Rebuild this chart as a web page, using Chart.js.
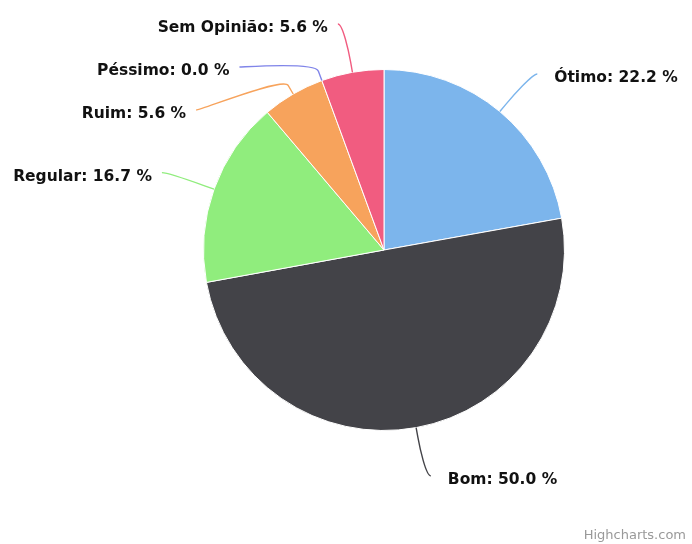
<!DOCTYPE html>
<html>
<head>
<meta charset="utf-8">
<script src="https://cdn.jsdelivr.net/npm/chart.js@4"></script>
<style>
  html, body { margin: 0; padding: 0; background: #fff; }
  #wrap { width: 692px; height: 544px; }
</style>
</head>
<body>
<div id="wrap"><canvas id="pieChart" width="692" height="544"></canvas></div>
<script>
const categories = ['Ótimo', 'Bom', 'Regular', 'Ruim', 'Péssimo', 'Sem Opinião'];
const percentages = [22.2, 50.0, 16.7, 5.6, 0.0, 5.6];
const sliceColors = ['#7cb5ec', '#434348', '#90ed7d', '#f7a35c', '#8085e9', '#f15c80'];
const creditText = 'Highcharts.com';

const labelDistance = 49;
const labelGap = 43;

// outside labels with soft connectors, like the highcharts pie
const pieLabels = {
  id: 'pieLabels',
  afterDatasetsDraw(chart) {
    const ctx = chart.ctx;
    const arcs = chart.getDatasetMeta(0).data;
    const items = arcs.map((arc, i) => {
      const p = arc.getProps(['x', 'y', 'startAngle', 'endAngle', 'outerRadius']);
      const mid = (p.startAngle + p.endAngle) / 2;
      const R = p.outerRadius + labelDistance;
      return { i, p, mid, R, left: Math.cos(mid) < 0, y: p.y + R * Math.sin(mid) };
    });
    [true, false].forEach(side => {
      const group = items.filter(it => it.left === side).sort((a, b) => a.y - b.y);
      for (let k = 1; k < group.length; k++) {
        group[k].y = Math.max(group[k].y, group[k - 1].y + labelGap);
      }
    });
    ctx.save();
    ctx.font = 'bold 15.5px "DejaVu Sans"';
    ctx.textBaseline = 'middle';
    items.forEach(it => {
      const { p, mid, R } = it;
      const dir = it.left ? -1 : 1;
      const dy = it.y - p.y;
      const ax = p.x + dir * Math.sqrt(Math.max(R * R - dy * dy, 0)) + dir * 6;
      const tx = p.x + Math.cos(mid) * p.outerRadius;
      const ty = p.y + Math.sin(mid) * p.outerRadius;
      const bx = p.x + Math.cos(mid) * (p.outerRadius + 10);
      const by = p.y + Math.sin(mid) * (p.outerRadius + 10);
      ctx.strokeStyle = sliceColors[it.i];
      ctx.lineWidth = 1.4;
      ctx.beginPath();
      ctx.moveTo(ax, it.y);
      ctx.bezierCurveTo(ax - dir * 5, it.y, 2 * bx - tx, 2 * by - ty, bx, by);
      ctx.lineTo(tx, ty);
      ctx.stroke();
      ctx.fillStyle = '#111';
      ctx.textAlign = it.left ? 'right' : 'left';
      const txt = categories[it.i] + ': ' + percentages[it.i].toFixed(1) + ' %';
      ctx.fillText(txt, ax + (it.left ? -10 : 17), it.y + 4);
    });
    ctx.font = '13px "DejaVu Sans"';
    ctx.fillStyle = '#999';
    ctx.textAlign = 'right';
    ctx.fillText(creditText, 686, 536);
    ctx.restore();
  }
};

new Chart(document.getElementById('pieChart'), {
  type: 'pie',
  data: {
    labels: categories,
    datasets: [{
      data: percentages,
      backgroundColor: sliceColors,
      borderColor: '#ffffff',
      borderWidth: 1
    }]
  },
  options: {
    responsive: false,
    animation: false,
    events: [],
    layout: { padding: { left: 203, right: 127, top: 69, bottom: 113 } },
    plugins: {
      legend: { display: false },
      tooltip: { enabled: false }
    }
  },
  plugins: [pieLabels]
});
</script>
</body>
</html>
